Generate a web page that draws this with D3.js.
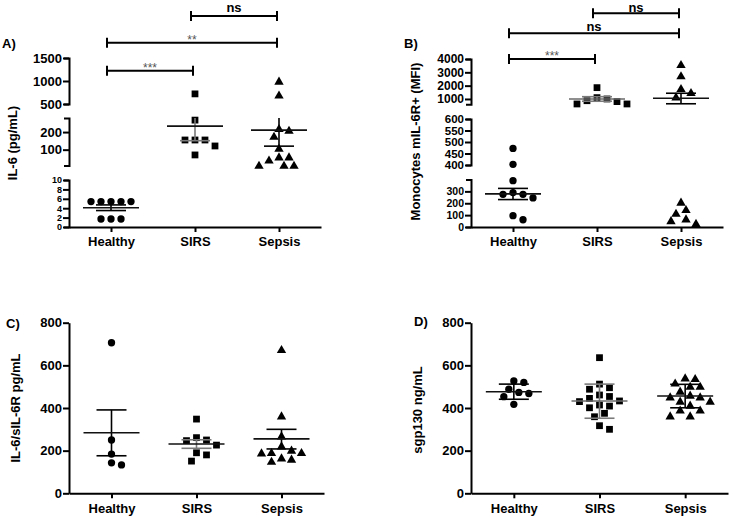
<!DOCTYPE html>
<html><head><meta charset="utf-8">
<script src="https://cdn.jsdelivr.net/npm/d3@7"></script>
<style>
body{margin:0;background:#fff}
svg{display:block}
</style>
</head><body>
<svg id="chart" width="729" height="516"></svg>
<script>
// ---------------- DATA ----------------
const categories = ["Healthy", "SIRS", "Sepsis"];

// Panel A: IL-6 (pg/mL), broken axis
const aHealthy = [5.4, 5.4, 5.4, 5.4, 5.4, 1.7, 1.7, 1.7];
const aSIRS = [720, 268, 155, 155, 155, 121, 70];
const aSepsis = [1000, 700, 221, 211, 177, 109, 60, 60, 42, 12, 12, 12];
const aMean = [4.1, 234, 211];
const aLow = [3.5, 151, 120];
const aHigh = [4.7, 320, 305];
const aSegDomains = [[0, 10], [10, 280], [500, 1500]];
const aSegTicks = [[0, 2, 4, 6, 8, 10], [100, 200], [500, 1000, 1500]];
const aBrackets = [["Healthy", "SIRS", "***"], ["Healthy", "Sepsis", "**"], ["SIRS", "Sepsis", "ns"]];

// Panel B: Monocytes mIL-6R+ (MFI), broken axis
const bHealthy = [472, 403, 390, 290, 275, 275, 245, 95, 61];
const bSIRS = [1850, 1100, 1000, 870, 800, 625, 625];
const bSepsis = [3600, 2750, 1800, 1500, 1170, 211, 149, 117, 70, 55, 32];
const bMean = [279, 1000, 1050];
const bLow = [231, 830, 640];
const bHigh = [325, 1170, 1430];
const bSegDomains = [[0, 400], [400, 600], [600, 4000]];
const bSegTicks = [[0, 100, 200, 300], [400, 450, 500, 550, 600], [1000, 2000, 3000, 4000]];
const bBrackets = [["Healthy", "SIRS", "***"], ["Healthy", "Sepsis", "ns"], ["SIRS", "Sepsis", "ns"]];

// Panel C: IL-6/sIL-6R pg/mL
const cHealthy = [706, 250, 184, 143, 133];
const cSIRS = [348, 261, 250, 247, 226, 190, 180, 151];
const cSepsis = [675, 364, 270, 223, 203, 192, 192, 190, 167, 161, 151];
const cMean = [284, 231, 255];
const cLow = [176, 211, 208];
const cHigh = [391, 251, 300];

// Panel D: sgp130 ng/mL
const dHealthy = [527, 520, 488, 473, 468, 453, 417];
const dSIRS = [636, 512, 495, 488, 461, 454, 445, 433, 430, 414, 409, 401, 375, 359, 317, 300];
const dSepsis = [542, 539, 518, 503, 503, 480, 461, 453, 453, 433, 433, 414, 391, 391, 364, 364];
const dMean = [476, 433, 456];
const dLow = [441, 352, 401];
const dHigh = [512, 512, 511];

const linTicks = [0, 200, 400, 600, 800];
const linDomain = [0, 800];

// ---------------- DRAWING ----------------
const svg = d3.select("#chart");
svg.append("rect").attr("width", 729).attr("height", 516).attr("fill", "#fff");
const FONT = "'Liberation Sans', Arial, Helvetica, sans-serif";
const symbols = [d3.symbolCircle, d3.symbolSquare, d3.symbolTriangle];
const symSizes = [42, 46, 38];

function segmented(domains, ranges) {
  const scales = domains.map((d, i) => d3.scaleLinear().domain(d).range(ranges[i]));
  const idx = v => {
    for (let i = 0; i < domains.length; i++) if (v >= domains[i][0] && v <= domains[i][1]) return i;
    let best = 0, bd = Infinity;
    domains.forEach((d, i) => { const dd = Math.min(Math.abs(v - d[0]), Math.abs(v - d[1])); if (dd < bd) { bd = dd; best = i; } });
    return best;
  };
  const f = v => scales[idx(v)](v);
  f.idx = idx;
  f.scales = scales;
  f.clampIn = (v, i) => scales[i](Math.max(domains[i][0], Math.min(domains[i][1], v)));
  f.inside = (v, i) => v >= domains[i][0] && v <= domains[i][1];
  return f;
}

function beeswarm(vals, cx, y, step, D) {
  const placed = [];
  const pts = vals.map(v => ({ v, y: y(v) })).sort((a, b) => a.y - b.y);
  pts.forEach(p => {
    for (let k = 0; k < 80; k++) {
      const off = k === 0 ? 0 : (k % 2 ? 1 : -1) * Math.ceil(k / 2) * step;
      const xx = cx + off;
      if (placed.every(q => (q.x - xx) ** 2 + (q.y - p.y) ** 2 >= D * D)) { placed.push({ x: xx, y: p.y }); break; }
    }
  });
  return placed;
}

function styleAxis(sel, fs) {
  sel.selectAll(".domain, .tick line").attr("stroke", "#000").attr("stroke-width", 2);
  sel.selectAll("text").attr("font-family", FONT).attr("font-weight", "bold").attr("font-size", fs || 13).attr("fill", "#000");
  sel.attr("font-family", null).attr("font-size", null);
}

function drawPanel(o) {
  const g = svg.append("g");
  const x = d3.scalePoint().domain(categories).range(o.xRange).padding(0.5);
  const y = segmented(o.segDomains, o.segRanges);

  // y axis segments
  o.segDomains.forEach((d, i) => {
    const ax = d3.axisLeft(y.scales[i]).tickValues(o.segTicks[i]).tickSizeInner(6)
      .tickSizeOuter(o.outer).tickPadding(1).tickFormat(d3.format("d"));
    const fs = o.segFont ? o.segFont[i] : 13;
    g.append("g").attr("transform", `translate(${o.xRange[0]},0)`).call(ax).call(styleAxis, fs);
  });
  // x axis
  const xa = d3.axisBottom(x).tickSizeInner(5).tickSizeOuter(0).tickPadding(5);
  g.append("g").attr("transform", `translate(0,${o.base})`).call(xa).call(styleAxis, 13);

  // points
  o.series.forEach((vals, si) => {
    const pts = beeswarm(vals, x(categories[si]), y, 5, 8.6);
    g.append("g").selectAll("path").data(pts).join("path")
      .attr("d", d3.symbol().type(symbols[si]).size(symSizes[si]))
      .attr("transform", p => `translate(${p.x},${p.y + (si === 2 ? 1 : 0)})`)
      .attr("fill", "#000");
  });

  // mean and error bars
  categories.forEach((c, si) => {
    const cx = x(c);
    const col = si === 1 ? "#7a7a7a" : "#000";
    const m = o.mean[si], lo = o.low[si], hi = o.high[si];
    const i = y.idx(m);
    const ym = y(m);
    const ylo = y.clampIn(lo, i), yhi = y.clampIn(hi, i);
    g.append("line").attr("x1", cx).attr("x2", cx).attr("y1", ylo).attr("y2", yhi)
      .attr("stroke", col).attr("stroke-width", 1.6);
    if (y.inside(lo, i)) g.append("line").attr("x1", cx - 15).attr("x2", cx + 15).attr("y1", ylo).attr("y2", ylo)
      .attr("stroke", col).attr("stroke-width", 1.6);
    if (y.inside(hi, i)) g.append("line").attr("x1", cx - 15).attr("x2", cx + 15).attr("y1", yhi).attr("y2", yhi)
      .attr("stroke", col).attr("stroke-width", 1.6);
    g.append("line").attr("x1", cx - 28).attr("x2", cx + 28).attr("y1", ym).attr("y2", ym)
      .attr("stroke", si === 1 && o.greyMean ? "#6a6a6a" : "#111").attr("stroke-width", 1.6);
  });

  // significance brackets
  (o.brackets || []).forEach((b, k) => {
    const x1 = x(b[0]) - 4, x2 = x(b[1]) - 2, ly = o.bracketY[k];
    g.append("path").attr("d", `M${x1},${ly - 5}V${ly + 5}M${x1},${ly}H${x2}M${x2},${ly - 5}V${ly + 5}`)
      .attr("fill", "none").attr("stroke", "#000").attr("stroke-width", 2);
    const isNs = b[2] === "ns";
    g.append("text").attr("x", (x1 + x2) / 2).attr("y", o.labelY[k]).attr("text-anchor", "middle")
      .attr("font-family", FONT).attr("font-weight", isNs ? "bold" : "normal")
      .attr("font-size", isNs ? 13 : 12).attr("fill", isNs ? "#000" : "#555").text(b[2]);
  });

  // panel letter
  g.append("text").attr("x", o.letterPos[0]).attr("y", o.letterPos[1]).attr("font-family", FONT)
    .attr("font-weight", "bold").attr("font-size", 13).text(o.letter);
  // y title
  g.append("text").attr("transform", `translate(${o.titlePos[0]},${o.titlePos[1]}) rotate(-90)`)
    .attr("text-anchor", "middle").attr("font-family", FONT).attr("font-weight", "bold")
    .attr("font-size", 13).text(o.title);
}

drawPanel({
  letter: "A)", letterPos: [2, 48], title: "IL-6 (pg/mL)", titlePos: [16.5, 143],
  xRange: [69, 321], base: 227, outer: 5, segFont: [9, 13, 13],
  segDomains: aSegDomains, segRanges: [[227, 180], [165.5, 118], [104, 58]], segTicks: aSegTicks,
  series: [aHealthy, aSIRS, aSepsis], mean: aMean, low: aLow, high: aHigh,
  brackets: aBrackets, bracketY: [70.7, 42.7, 16], labelY: [71.5, 44, 11.5]
});
drawPanel({
  letter: "B)", letterPos: [404, 47.5], title: "Monocytes mIL-6R+ (MFI)", titlePos: [419.5, 141.5],
  xRange: [471, 723], base: 227, outer: 5, greyMean: true, segFont: [10.5, 11.5, 12],
  segDomains: bSegDomains, segRanges: [[227, 179.5], [165, 119], [104.3, 59]], segTicks: bSegTicks,
  series: [bHealthy, bSIRS, bSepsis], mean: bMean, low: bLow, high: bHigh,
  brackets: bBrackets, bracketY: [59, 33.3, 13.3], labelY: [60, 30.5, 11.5]
});
drawPanel({
  letter: "C)", letterPos: [6, 328], title: "IL-6/sIL-6R pg/mL", titlePos: [19.5, 408],
  xRange: [69, 324], base: 493.3, outer: 0,
  segDomains: [linDomain], segRanges: [[493.3, 322.7]], segTicks: [linTicks],
  series: [cHealthy, cSIRS, cSepsis], mean: cMean, low: cLow, high: cHigh
});
drawPanel({
  letter: "D)", letterPos: [414, 326], title: "sgp130 ng/mL", titlePos: [421.5, 410],
  xRange: [471, 728], base: 493.3, outer: 0, greyMean: true,
  segDomains: [linDomain], segRanges: [[493.3, 322.7]], segTicks: [linTicks],
  series: [dHealthy, dSIRS, dSepsis], mean: dMean, low: dLow, high: dHigh
});
</script>
</body></html>
